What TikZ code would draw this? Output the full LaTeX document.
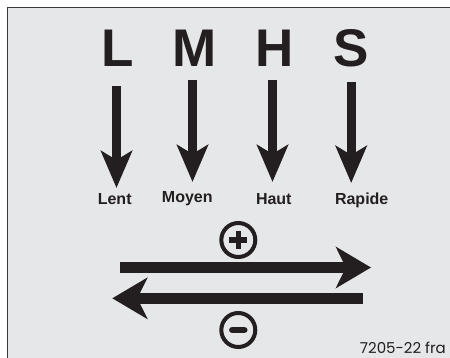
\documentclass[tikz,border=0pt]{standalone}
\usepackage{fontspec}
\setmainfont{Liberation Sans}
\newfontfamily\codefont{Poppins}
\usetikzlibrary{arrows.meta}
\definecolor{PanelGrey}{HTML}{E6E7E8}
\definecolor{PanelEdge}{HTML}{3A3A3A}
\definecolor{InkBlack}{HTML}{231F20}

\begin{document}
\begin{tikzpicture}[x=1pt,y=-1pt,
    letter/.style={inner sep=0pt,anchor=base,text=InkBlack,
      font=\fontsize{53}{53}\selectfont\bfseries},
    speed/.style={inner sep=0pt,anchor=base,text=InkBlack,
      font=\fontsize{16}{16}\selectfont\bfseries},
    downarrow/.style={draw=InkBlack,line width=9pt,
      -{Stealth[length=37pt,width=31pt,inset=9pt]}},
    sidearrow/.style={draw=InkBlack,line width=11.5pt,
      -{Stealth[length=35pt,width=41pt,inset=10pt]}},
    sign/.style={circle,draw=InkBlack,line width=4pt,minimum size=34pt,inner sep=0pt},
    bar/.style={draw=InkBlack,line width=5.5pt}
  ]
    \useasboundingbox (0,0) rectangle (450,358);
    \fill[PanelGrey] (7.5,7.5) rectangle (452,360);
    \draw[PanelEdge,line width=1.4pt] (7.5,360) -- (7.5,7.5) -- (452,7.5);

    \node[letter] (L) at (118,67) {L};
    \node[letter] (M) at (195,67) {M};
    \node[letter] (H) at (275,67) {H};
    \node[letter] (S) at (351,67) {S};

    \node[speed] (lent) at (114.7,205) {Lent};
    \node[speed] (moyen) at (187.3,203) {Moyen};
    \node[speed] (haut) at (273.8,205) {Haut};
    \node[speed] (rapide) at (361.7,205) {Rapide};

    \foreach \n/\x/\top/\tip in {1/116.5/86/188, 2/192.5/80/182, 3/272.5/80/182, 4/351.2/82/183}{
      \coordinate (start\n) at (\x,\top);
      \coordinate (tip\n) at (\x,\tip);
      \draw[downarrow] (start\n) -- (tip\n);
    }

    \node[sign] (plus) at (238.3,240) {};
    \draw[bar] ([xshift=-9pt]plus.center) -- ([xshift=9pt]plus.center);
    \draw[bar] ([yshift=-9pt]plus.center) -- ([yshift=9pt]plus.center);
    \node[sign] (minus) at (238.3,330) {};
    \draw[bar,line width=6.5pt,line cap=round] ([xshift=-6pt]minus.center) -- ([xshift=6pt]minus.center);

    \coordinate (upstart) at (120,267.5);
    \coordinate (upend) at (371,267.5);
    \coordinate (downstart) at (362.5,298.3);
    \coordinate (downend) at (112.3,298.3);
    \draw[sidearrow] (upstart) -- (upend);
    \draw[sidearrow] (downstart) -- (downend);

    \node[inner sep=0pt,anchor=base east,text=InkBlack,
      font=\fontsize{15}{15}\codefont] (code) at (446,353.3) {7205-22 fra};
  \end{tikzpicture}
\end{document}
